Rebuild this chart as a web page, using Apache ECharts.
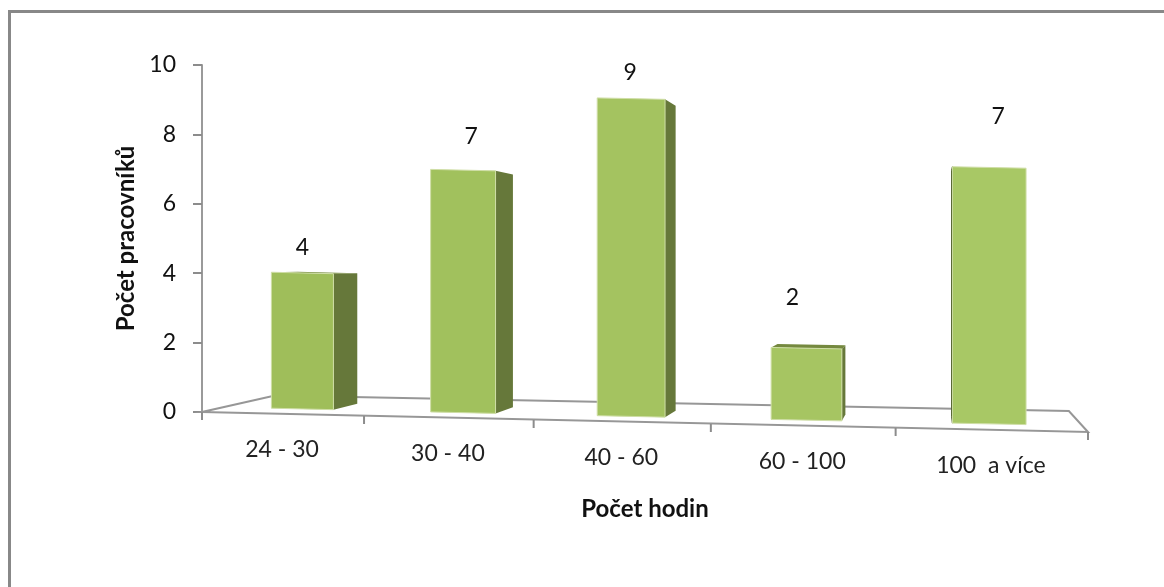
<!DOCTYPE html>
<html>
<head>
<meta charset="utf-8">
<style>
  html, body { margin: 0; padding: 0; background: #fff; }
  #chart { width: 1164px; height: 587px; }
</style>
<script src="https://cdn.jsdelivr.net/npm/echarts@6/dist/echarts.min.js"></script>
</head>
<body>
<div id="chart"></div>
<script>
const categories = ['24 - 30', '30 - 40', '40 - 60', '60 - 100', '100  a více'];
const workers = [4, 7, 9, 2, 7];
const yTicks = [0, 10, 2];

// the floor is seen in perspective, u = 0..1 along the axis, d = 0 front .. 1 back
const spread = u => 0.893 * u + 0.107 * u * u;
function floorPoint(rect, u, d) {
    const f = spread(u);
    const fx = rect.x + rect.width * f;
    const bx = rect.x + rect.width * (0.0824 + 0.896 * f);
    const base = rect.y + rect.height;
    const fy = base + 20 * u;
    const by = base - 16.5 + 15.5 * u;
    return [fx + (bx - fx) * d, fy + (by - fy) * d];
}
const vanish = [930, 259];
const toBack = p => [p[0] + (vanish[0] - p[0]) * 0.04, p[1] + (vanish[1] - p[1]) * 0.04];

// value labels float above the bars, not at a fixed distance
const labelOffset = [[0, 25], [8, 33], [-1, 25], [-14, 50], [9, 50]];

function renderFloor(params, api) {
    const rect = params.coordSys;
    const line = { stroke: '#979797', lineWidth: 2, fill: null };
    const children = [{
        type: 'polygon',
        shape: { points: [floorPoint(rect, 0, 0), floorPoint(rect, 1, 0), floorPoint(rect, 1, 1), floorPoint(rect, 0, 1)] },
        style: line
    }];
    for (let i = 0; i <= categories.length; i++) {
        const p = floorPoint(rect, i / categories.length, 0);
        children.push({
            type: 'line',
            shape: { x1: p[0], y1: p[1], x2: p[0], y2: p[1] + 8 },
            style: { stroke: '#8c8c8c', lineWidth: 2 }
        });
    }
    return { type: 'group', children };
}

function renderBar(params, api) {
    const rect = params.coordSys;
    const idx = api.value(0);
    const val = api.value(1);
    const u = (api.coord([idx, val])[0] - rect.x) / rect.width;
    const h = (api.coord([idx, 0])[1] - api.coord([idx, val])[1]) * (0.97 + 0.095 * u);
    const halfBar = 0.0395;
    const shift = 0.001;

    const bl = floorPoint(rect, u + shift - halfBar, 0.3);
    const br = floorPoint(rect, u + shift + halfBar, 0.3);
    const tl = [bl[0], bl[1] - h];
    const tr = [br[0], br[1] - h];
    const bbl = toBack(bl), bbr = toBack(br), btl = toBack(tl), btr = toBack(tr);

    const dark = '#66783a';
    const children = [];
    if (bbr[0] > br[0]) {
        children.push({ type: 'polygon', shape: { points: [br, tr, btr, bbr] }, style: { fill: dark } });
    }
    if (bbl[0] < bl[0]) {
        children.push({ type: 'polygon', shape: { points: [bl, tl, btl, bbl] }, style: { fill: '#4f5d2d', stroke: '#4f5d2d', lineWidth: 1 } });
    }
    if (btl[1] < tl[1]) {
        children.push({ type: 'polygon', shape: { points: [tl, tr, btr, btl] }, style: { fill: '#75893f' } });
    }
    children.push({
        type: 'polygon',
        shape: { points: [bl, br, tr, tl] },
        style: { fill: echarts.color.lerp(u, ['#9ebd59', '#a9c966']), stroke: '#cfdea6', lineWidth: 1 }
    });

    const off = labelOffset[idx];
    children.push({
        type: 'text',
        style: {
            text: String(val),
            x: (tl[0] + tr[0]) / 2 + off[0],
            y: tl[1] - off[1],
            fill: '#111',
            font: '23px Lato',
            align: 'center',
            verticalAlign: 'middle'
        }
    });

    const front = floorPoint(rect, (idx + 0.5) / categories.length, 0);
    children.push({
        type: 'text',
        style: {
            text: categories[idx],
            x: front[0],
            y: front[1] + 36,
            fill: '#222',
            font: '23px Lato',
            align: 'center',
            verticalAlign: 'middle'
        }
    });
    return { type: 'group', children };
}

const chart = echarts.init(document.getElementById('chart'));
chart.setOption({
    backgroundColor: '#fff',
    animation: false,
    graphic: [{
        type: 'polyline',
        silent: true,
        shape: { points: [[9.5, 587], [9.5, 11.5], [1164, 11.5]] },
        style: { stroke: '#888888', lineWidth: 3, fill: null }
    }],
    grid: { left: 202, right: 76, top: 65, bottom: 175 },
    xAxis: {
        type: 'category',
        data: categories,
        name: 'Počet hodin',
        nameLocation: 'middle',
        nameGap: 85,
        nameTextStyle: { fontFamily: 'Lato', fontWeight: 'bold', fontSize: 24, color: '#111' },
        axisLine: { show: false },
        axisTick: { show: false },
        axisLabel: { show: false }
    },
    yAxis: {
        type: 'value',
        min: yTicks[0],
        max: yTicks[1],
        interval: yTicks[2],
        name: 'Počet pracovníků',
        nameLocation: 'middle',
        nameRotate: 90,
        nameGap: 64,
        nameTextStyle: { fontFamily: 'Lato', fontWeight: 'bold', fontSize: 24, color: '#111' },
        axisLine: { show: true, lineStyle: { color: '#9a9a9a', width: 2 } },
        axisTick: { show: true, inside: false, length: 9, lineStyle: { color: '#8c8c8c', width: 2 } },
        axisLabel: { fontFamily: 'Lato', fontSize: 23, color: '#111', margin: 26 },
        splitLine: { show: false }
    },
    series: [{
        type: 'custom',
        silent: true,
        z: 1,
        renderItem: renderFloor,
        data: [[0, 0]]
    }, {
        type: 'custom',
        silent: true,
        z: 2,
        renderItem: renderBar,
        encode: { x: 0, y: 1 },
        data: workers.map((v, i) => [i, v])
    }]
});
</script>
</body>
</html>
